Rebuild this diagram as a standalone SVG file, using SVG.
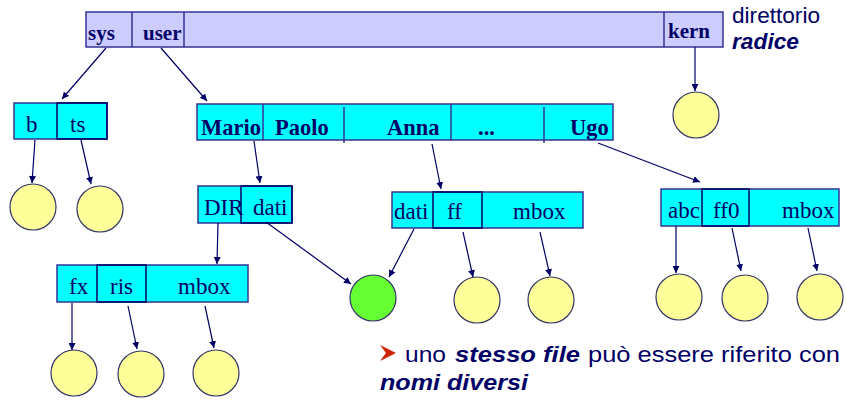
<svg xmlns="http://www.w3.org/2000/svg" width="846" height="400" viewBox="0 0 846 400">
<defs>
<marker id="ah" viewBox="0 0 10 10" refX="10" refY="5" markerWidth="7" markerHeight="7" markerUnits="userSpaceOnUse" orient="auto"><path d="M0,0 L10,5 L0,10 z" fill="#000066"/></marker>
<style>
.root{fill:#ccccff;stroke:#333399;stroke-width:1.5}
.dir{fill:#00ffff;stroke:#333399;stroke-width:1.5}
.cell{fill:none;stroke:#000066;stroke-width:1.5}
.div{stroke:#333399;stroke-width:1.5}
.f{fill:#ffff99;stroke:#333366;stroke-width:1.2}
.g{fill:#66ff33;stroke:#333366;stroke-width:1.2}
.rt{font-family:"Liberation Serif",serif;font-weight:bold;font-size:21px;fill:#000066}
.bt{font-family:"Liberation Serif",serif;font-weight:bold;font-size:22.5px;fill:#000066}
.st{font-family:"Liberation Serif",serif;font-size:23px;fill:#000066}
.at{font-family:"Liberation Sans",Arial,sans-serif;font-size:22px;fill:#000066}
.bi{font-weight:bold;font-style:italic}
.e{stroke:#000066;stroke-width:1.2;fill:none;marker-end:url(#ah)}
</style>
</defs>
<g id="root">
<rect class="root" x="86" y="12" width="637" height="35"/>
<line class="div" x1="132" y1="12" x2="132" y2="47"/>
<line class="div" x1="184" y1="12" x2="184" y2="47"/>
<line class="div" x1="664" y1="12" x2="664" y2="47"/>
<text class="rt" x="88" y="40">sys</text>
<text class="rt" x="143" y="40">user</text>
<text class="rt" x="668" y="38">kern</text>
</g>
<g id="label-radice">
<text class="at" x="732" y="23" textLength="88" lengthAdjust="spacingAndGlyphs">direttorio</text>
<text class="at bi" x="732" y="49" textLength="67" lengthAdjust="spacingAndGlyphs">radice</text>
</g>
<g id="dir-sys">
<rect class="dir" x="14" y="103" width="93" height="36"/>
<rect class="cell" x="57" y="103" width="50" height="36"/>
<text class="st" x="26" y="132">b</text>
<text class="st" x="70" y="132">ts</text>
</g>
<g id="dir-user">
<rect class="dir" x="197" y="104" width="416" height="36"/>
<line class="div" x1="263" y1="104" x2="263" y2="140"/>
<line class="div" x1="344" y1="107" x2="344" y2="143"/>
<line class="div" x1="451" y1="104" x2="451" y2="140"/>
<line class="div" x1="544" y1="107" x2="544" y2="143"/>
<text class="bt" x="201" y="135">Mario</text>
<text class="bt" x="275" y="135">Paolo</text>
<text class="bt" x="387" y="135">Anna</text>
<text class="bt" x="478" y="135">...</text>
<text class="bt" x="570" y="135">Ugo</text>
</g>
<g id="dir-mario">
<rect class="dir" x="198" y="186" width="94" height="37"/>
<rect class="cell" x="241" y="186" width="51" height="37"/>
<text class="st" x="204" y="215">DIR</text>
<text class="st" x="253" y="215">dati</text>
</g>
<g id="dir-anna">
<rect class="dir" x="392" y="192" width="191" height="36"/>
<rect class="cell" x="433" y="192" width="49" height="36"/>
<text class="st" x="394" y="219">dati</text>
<text class="st" x="447" y="219">ff</text>
<text class="st" x="513" y="219">mbox</text>
</g>
<g id="dir-ugo">
<rect class="dir" x="661" y="189" width="178" height="37"/>
<rect class="cell" x="702" y="189" width="47" height="37"/>
<text class="st" x="668" y="218">abc</text>
<text class="st" x="713" y="218">ff0</text>
<text class="st" x="782" y="218">mbox</text>
</g>
<g id="dir-DIR">
<rect class="dir" x="57" y="265" width="191" height="37"/>
<rect class="cell" x="97" y="265" width="49" height="37"/>
<text class="st" x="69" y="294">fx</text>
<text class="st" x="110" y="294">ris</text>
<text class="st" x="178" y="294">mbox</text>
</g>
<g id="files">
<circle class="f" cx="696" cy="115" r="23"/>
<circle class="f" cx="33" cy="207" r="23"/>
<circle class="f" cx="100" cy="209" r="23"/>
<circle class="g" cx="373" cy="298" r="23"/>
<circle class="f" cx="477" cy="300" r="23"/>
<circle class="f" cx="551" cy="300" r="23"/>
<circle class="f" cx="679" cy="297" r="23"/>
<circle class="f" cx="745" cy="298" r="23"/>
<circle class="f" cx="820" cy="297" r="23"/>
<circle class="f" cx="74" cy="373" r="23"/>
<circle class="f" cx="141" cy="374" r="23"/>
<circle class="f" cx="216" cy="373" r="23"/>
</g>
<g id="connectors">
<line class="e" x1="106" y1="48" x2="62" y2="99"/>
<line class="e" x1="161" y1="48" x2="207" y2="101"/>
<line class="e" x1="695" y1="47" x2="695" y2="91"/>
<line class="e" x1="35" y1="140" x2="32" y2="183"/>
<line class="e" x1="81" y1="140" x2="91" y2="184"/>
<line class="e" x1="254" y1="141" x2="260" y2="183"/>
<line class="e" x1="432" y1="144" x2="441" y2="189"/>
<line class="e" x1="598" y1="143" x2="700" y2="182"/>
<line class="e" x1="218" y1="223" x2="217" y2="264"/>
<line class="e" x1="266" y1="222" x2="351" y2="284"/>
<line class="e" x1="414" y1="229" x2="389" y2="277"/>
<line class="e" x1="463" y1="232" x2="473" y2="277"/>
<line class="e" x1="540" y1="232" x2="550" y2="276"/>
<line class="e" x1="676" y1="226" x2="676" y2="273"/>
<line class="e" x1="732" y1="228" x2="741" y2="271"/>
<line class="e" x1="808" y1="228" x2="817" y2="271"/>
<line class="e" x1="72" y1="303" x2="72" y2="350"/>
<line class="e" x1="128" y1="306" x2="137" y2="349"/>
<line class="e" x1="205" y1="306" x2="214" y2="348"/>
</g>
<g id="note">
<path d="M380,345 L396,353 L380,361 L386,353 z" fill="#cc2200"/>
<text class="at" x="405" y="362" textLength="41" lengthAdjust="spacingAndGlyphs">uno</text>
<text class="at bi" x="455" y="362" textLength="125" lengthAdjust="spacingAndGlyphs">stesso file</text>
<text class="at" x="588" y="362" textLength="252" lengthAdjust="spacingAndGlyphs">può essere riferito con</text>
<text class="at bi" x="380" y="390" textLength="148" lengthAdjust="spacingAndGlyphs">nomi diversi</text>
</g>
</svg>
